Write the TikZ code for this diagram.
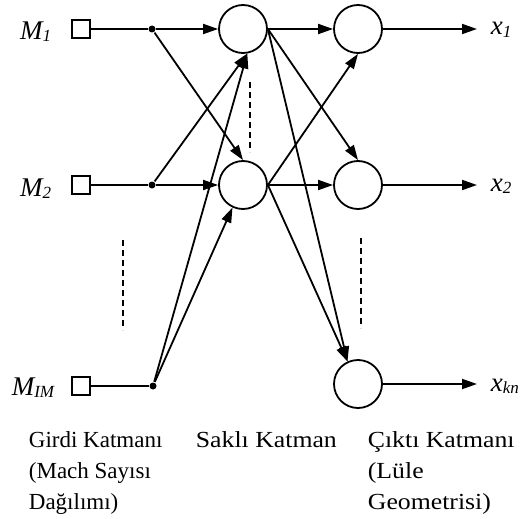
\documentclass[tikz,border=0pt]{standalone}
\usepackage{fontspec}
\setmainfont{Liberation Serif}
\usetikzlibrary{arrows.meta}

\newcommand{\lsub}[1]{\raisebox{-2pt}{\fontsize{17}{17}\selectfont #1}}

\begin{document}
\begin{tikzpicture}[x=1pt, y=-1pt, line width=1.8pt,
        inp/.style = {draw, rectangle, minimum size=18pt, inner sep=0pt},
        neur/.style = {draw, circle, minimum size=48pt, inner sep=0pt},
        jn/.style = {circle, fill, minimum size=7pt, inner sep=0pt},
        lbl/.style = {inner sep=0pt, font=\fontsize{27}{27}\selectfont\itshape},
        layername/.style = {align=left, inner sep=0pt, anchor=base west, font=\fontsize{23}{31}\selectfont},
        wide/.style = {font=\fontsize{23}{31}\selectfont\addfontfeature{FakeStretch=1.12}},
        arr/.style = {-{Triangle[length=15pt, width=10pt]}},
        dots/.style = {line width=1.5pt, dash pattern=on 6pt off 4pt}]

    \useasboundingbox (0,0) rectangle (522,519);

    % Input layer
    \node[inp] (i1) at (81,29) {};
    \node[inp] (i2) at (81,185) {};
    \node[inp] (i3) at (81,386) {};
    \node[jn] (j1) at (152,29) {};
    \node[jn] (j2) at (152,185) {};
    \node[jn] (j3) at (153,386) {};
    \node[lbl, anchor=base east] (m1) at (52,40) {M\lsub{1}};
    \node[lbl, anchor=base east] (m2) at (52,196) {M\lsub{2}};
    \node[lbl, anchor=base east] (m3) at (55,395) {M\lsub{IM}};
    \foreach \i in {1,2,3} \draw (i\i) -- (j\i);
    \draw[dots] (123,240) -- (123,330);

    % Hidden layer
    \node[neur] (h1) at (243,29) {};
    \node[neur] (h2) at (243,185) {};
    \draw[dots] (250,82) -- (250,152);

    % Output layer
    \node[neur] (o1) at (358,29) {};
    \node[neur] (o2) at (358,185) {};
    \node[neur] (o3) at (358,384) {};
    \coordinate (e1) at (477,29);
    \coordinate (e2) at (477,185);
    \coordinate (e3) at (477,384);
    \node[lbl, anchor=base west] (x1) at (490,35) {x\lsub{1}};
    \node[lbl, anchor=base west] (x2) at (490,191) {x\lsub{2}};
    \node[lbl, anchor=base west] (x3) at (490,391) {x\lsub{kn}};
    \draw[dots] (361,238) -- (361,328);

    % Connections
    \draw[arr] (j1) -- (h1.west);
    \draw[arr] (j1) -- (h2.north);
    \draw[arr] (j2) -- (h2.west);
    \draw[arr] (j2) -- (h1.-80);
    \draw[arr] (j3) -- (h1.-80);
    \draw[arr] (j3) -- (h2.-115);
    \draw[arr] (h1.east) -- (o1.west);
    \draw[arr] (h1.east) -- (o2.north);
    \draw[arr] (h1.east) -- (o3.115);
    \draw[arr] (h2.east) -- (o1.south);
    \draw[arr] (h2.east) -- (o2.west);
    \draw[arr] (h2.east) -- (o3.115);
    \foreach \k in {1,2,3} \draw[arr] (o\k) -- (e\k);

    % Layer names
    \node[layername] (c1) at (28,509) {Girdi Katmanı\\(Mach Sayısı\\Dağılımı)};
    \node[layername, wide] (c2) at (195,447) {Saklı Katman};
    \node[layername, wide] (c3) at (367,509) {Çıktı Katmanı\\(Lüle\\Geometrisi)};
\end{tikzpicture}
\end{document}
